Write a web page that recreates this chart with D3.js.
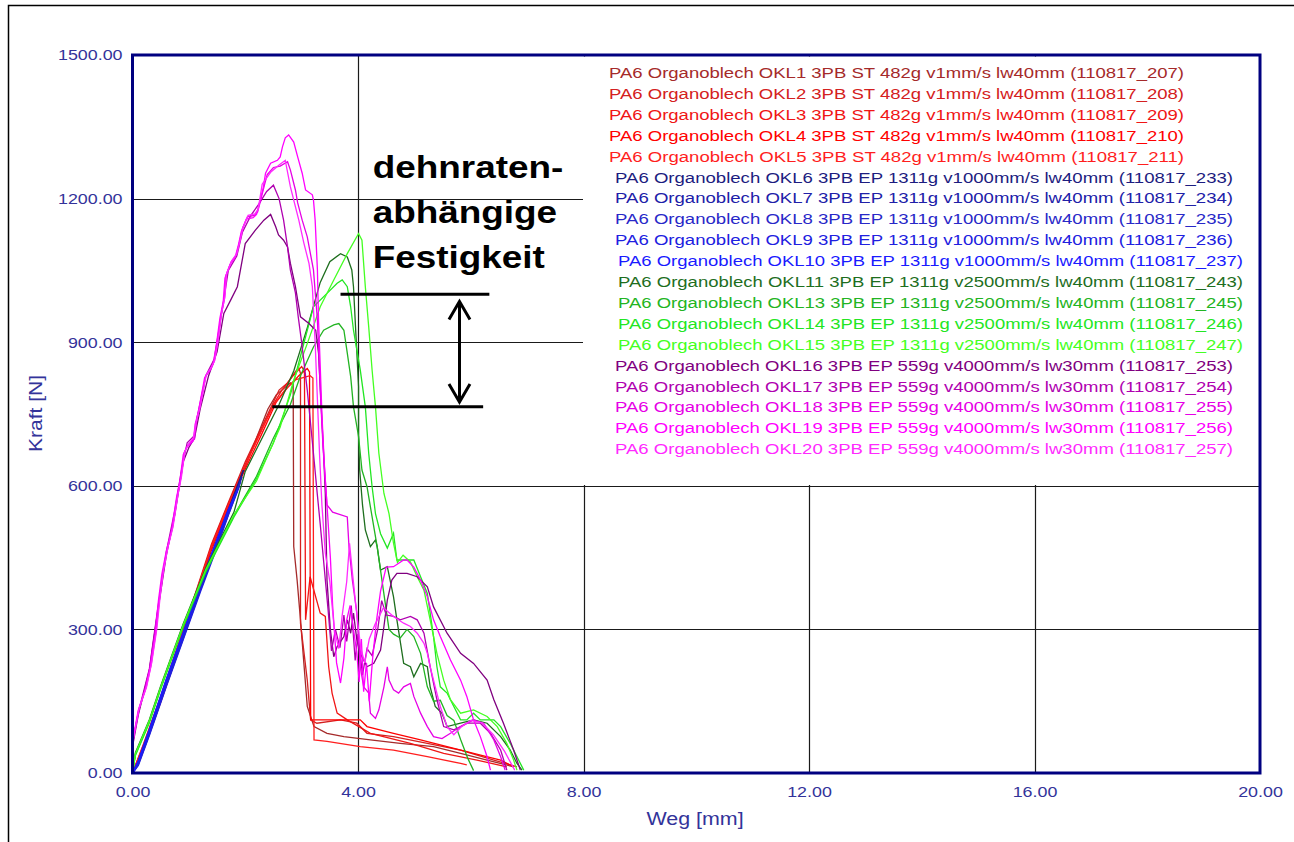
<!DOCTYPE html>
<html><head><meta charset="utf-8">
<script src="https://cdn.jsdelivr.net/npm/d3@7"></script>
<style>
body{margin:0;background:#fff;}
svg{display:block;font-family:Arial,"Liberation Sans",sans-serif;}
</style>
</head><body>
<svg id="chart" width="1294" height="842"></svg>
<script>
// ---------- data ----------
const xTicks = [0, 4, 8, 12, 16, 20];
const yTicks = [0, 300, 600, 900, 1200, 1500];
const xTitle = "Weg [mm]";
const yTitle = "Kraft [N]";
const annotationLines = ["dehnraten-", "abhängige", "Festigkeit"];

const seriesNames = [
  "PA6 Organoblech OKL1 3PB ST 482g v1mm/s lw40mm (110817_207)",
  "PA6 Organoblech OKL2 3PB ST 482g v1mm/s lw40mm (110817_208)",
  "PA6 Organoblech OKL3 3PB ST 482g v1mm/s lw40mm (110817_209)",
  "PA6 Organoblech OKL4 3PB ST 482g v1mm/s lw40mm (110817_210)",
  "PA6 Organoblech OKL5 3PB ST 482g v1mm/s lw40mm (110817_211)",
  "PA6 Organoblech OKL6 3PB EP 1311g v1000mm/s lw40mm (110817_233)",
  "PA6 Organoblech OKL7 3PB EP 1311g v1000mm/s lw40mm (110817_234)",
  "PA6 Organoblech OKL8 3PB EP 1311g v1000mm/s lw40mm (110817_235)",
  "PA6 Organoblech OKL9 3PB EP 1311g v1000mm/s lw40mm (110817_236)",
  "PA6 Organoblech OKL10 3PB EP 1311g v1000mm/s lw40mm (110817_237)",
  "PA6 Organoblech OKL11 3PB EP 1311g v2500mm/s lw40mm (110817_243)",
  "PA6 Organoblech OKL13 3PB EP 1311g v2500mm/s lw40mm (110817_245)",
  "PA6 Organoblech OKL14 3PB EP 1311g v2500mm/s lw40mm (110817_246)",
  "PA6 Organoblech OKL15 3PB EP 1311g v2500mm/s lw40mm (110817_247)",
  "PA6 Organoblech OKL16 3PB EP 559g v4000mm/s lw30mm (110817_253)",
  "PA6 Organoblech OKL17 3PB EP 559g v4000mm/s lw30mm (110817_254)",
  "PA6 Organoblech OKL18 3PB EP 559g v4000mm/s lw30mm (110817_255)",
  "PA6 Organoblech OKL19 3PB EP 559g v4000mm/s lw30mm (110817_256)",
  "PA6 Organoblech OKL20 3PB EP 559g v4000mm/s lw30mm (110817_257)"
];

// [Weg mm, Kraft N]
const okl1 = [[0,0],[0.2,55],[0.5,150],[0.8,255],[1.1,360],[1.4,470],[1.7,560],[2.0,640],[2.2,700],[2.4,760],[2.55,790],[2.7,805],[2.8,815],[2.85,812],[2.86,473],[2.92,403],[2.98,320],[3.04,229],[3.10,139],[3.22,97],[3.45,83],[3.75,76],[4.22,69],[4.75,62],[5.34,55],[5.82,41],[6.29,27],[6.76,13]];
const okl2 = [[0,0],[0.2,62],[0.5,160],[0.8,265],[1.1,370],[1.4,478],[1.7,565],[2.0,650],[2.3,725],[2.5,775],[2.6,800],[2.75,815],[2.9,840],[2.95,846],[2.98,835],[2.98,313],[3.10,194],[3.16,111],[3.27,104],[3.69,111],[3.98,104],[4.16,83],[4.63,76],[5.23,62],[5.82,48],[6.41,27],[6.82,13]];
const okl3 = [[0,0],[0.2,58],[0.5,155],[0.8,260],[1.1,365],[1.4,475],[1.7,562],[2.0,645],[2.3,720],[2.5,770],[2.65,800],[2.85,830],[3.0,849],[3.05,840],[3.07,320],[3.15,410],[3.33,334],[3.42,327],[3.48,222],[3.54,167],[3.63,125],[3.81,111],[4.22,83],[4.93,62],[5.52,41],[6.11,27],[6.64,13]];
const okl4 = [[0,0],[0.2,50],[0.5,148],[0.8,250],[1.1,355],[1.4,465],[1.7,555],[2.0,635],[2.3,710],[2.55,775],[2.75,805],[2.95,830],[3.1,845],[3.14,838],[3.16,111],[3.27,111],[4.04,111],[4.16,97],[4.63,83],[5.11,69],[5.58,55],[6.05,41],[6.53,27],[6.76,13]];
const okl5 = [[0,0],[0.2,60],[0.5,158],[0.8,262],[1.1,368],[1.4,472],[1.7,560],[2.0,642],[2.3,718],[2.5,768],[2.7,800],[2.9,822],[3.15,830],[3.2,825],[3.22,69],[3.45,66],[4.04,55],[4.63,48],[5.23,34],[5.82,20],[5.93,17]];

const okl6  = [[0,0],[0.1,22],[0.3,88],[0.6,192],[0.9,290],[1.2,390],[1.5,485],[1.8,580],[1.97,633]];
const okl7  = [[0,0],[0.1,18],[0.3,82],[0.6,185],[0.9,282],[1.2,382],[1.5,478],[1.8,572],[1.94,619]];
const okl8  = [[0,0],[0.1,20],[0.3,85],[0.6,188],[0.9,286],[1.2,386],[1.5,480],[1.75,560],[1.92,609]];
const okl9  = [[0,0],[0.1,16],[0.3,80],[0.6,182],[0.9,280],[1.2,378],[1.5,473],[1.7,540],[1.89,598]];
const okl10 = [[0,0],[0.1,24],[0.3,90],[0.6,195],[0.9,293],[1.2,393],[1.5,488],[1.7,550],[1.86,590]];

const okl11 = [[0,0],[0.05,42],[0.3,112],[0.5,182],[0.9,312],[1.3,428],[1.8,545],[2.0,630],[2.3,700],[2.6,770],[2.86,840],[3.1,930],[3.33,1025],[3.5,1068],[3.69,1085],[3.81,1078],[3.89,1051],[3.92,1016],[3.95,946],[3.98,877],[4.01,807],[4.01,703],[4.03,633],[4.08,560],[4.13,508],[4.22,473],[4.31,487],[4.34,473],[4.40,424],[4.52,431],[4.63,368],[4.69,320],[4.81,229],[4.93,222],[4.99,201],[5.11,229],[5.23,222],[5.28,180],[5.37,139],[5.49,125],[5.58,97],[5.82,104],[6.05,111],[6.29,104],[6.53,76],[6.70,48],[6.82,20],[6.91,6]];
const okl13 = [[0,0],[0.05,38],[0.3,108],[0.5,178],[0.9,308],[1.3,423],[1.8,538],[2.2,620],[2.5,700],[2.8,770],[2.98,830],[3.21,890],[3.39,925],[3.57,936],[3.66,939],[3.75,925],[3.81,877],[3.87,828],[3.92,765],[4.01,703],[4.07,633],[4.16,598],[4.22,556],[4.34,473],[4.45,382],[4.55,300],[4.63,290],[4.75,282],[4.87,300],[4.99,285],[5.11,250],[5.23,180],[5.34,150],[5.46,152],[5.58,120],[5.70,110],[5.82,70],[5.95,30],[6.05,5]];
const okl14 = [[0,0],[0.05,36],[0.3,105],[0.5,175],[0.9,305],[1.3,420],[1.8,535],[2.2,615],[2.5,690],[2.8,790],[3.0,880],[3.21,974],[3.45,1002],[3.63,1023],[3.72,1030],[3.81,1016],[3.87,974],[3.92,925],[4.04,842],[4.13,765],[4.19,668],[4.25,598],[4.31,542],[4.40,500],[4.52,470],[4.63,501],[4.69,445],[4.81,445],[4.99,445],[5.11,410],[5.23,375],[5.28,334],[5.34,285],[5.40,222],[5.46,180],[5.58,167],[5.70,139],[5.82,111],[5.93,111],[6.05,125],[6.17,111],[6.41,111],[6.53,97],[6.70,62],[6.94,6]];
const okl15 = [[0,0],[0.05,40],[0.3,110],[0.5,180],[0.9,310],[1.3,425],[1.8,540],[2.2,610],[2.62,723],[2.86,821],[3.10,897],[3.33,974],[3.57,1030],[3.81,1085],[4.01,1127],[4.07,1113],[4.13,1016],[4.19,932],[4.25,842],[4.31,765],[4.37,668],[4.46,584],[4.55,542],[4.63,480],[4.70,440],[4.80,455],[4.93,441],[5.05,410],[5.17,382],[5.28,320],[5.40,250],[5.52,194],[5.64,153],[5.82,125],[6.05,132],[6.29,118],[6.47,97],[6.64,62],[6.76,27],[6.82,6]];

const okl16 = [[0,55],[0.1,120],[0.3,215],[0.45,340],[0.6,455],[0.75,540],[0.9,650],[1.0,680],[1.1,700],[1.2,760],[1.35,830],[1.5,880],[1.62,960],[1.75,990],[1.86,1016],[2.0,1106],[2.18,1134],[2.33,1155],[2.45,1167],[2.54,1141],[2.59,1124],[2.68,1113],[2.75,1099],[2.80,1065],[2.89,1016],[2.98,953],[3.13,939],[3.25,925],[3.30,877],[3.33,807],[3.36,737],[3.39,668],[3.42,584],[3.45,403],[3.51,299],[3.57,243],[3.63,264],[3.75,285],[3.81,320],[3.87,292],[3.92,334],[3.98,278],[4.04,250],[4.16,222],[4.28,229],[4.40,257],[4.46,306],[4.52,361],[4.60,403],[4.69,417],[4.87,417],[5.05,410],[5.23,389],[5.34,347],[5.58,292],[5.82,250],[6.05,229],[6.29,194],[6.41,153],[6.58,104],[6.76,48],[6.88,6]];
const okl17 = [[0,62],[0.1,125],[0.3,218],[0.45,345],[0.6,462],[0.75,548],[0.88,640],[0.97,690],[1.1,705],[1.15,745],[1.3,830],[1.45,865],[1.58,960],[1.7,1050],[1.85,1080],[1.95,1130],[2.1,1165],[2.25,1190],[2.38,1215],[2.5,1228],[2.6,1200],[2.68,1155],[2.75,1099],[2.80,1051],[2.89,1003],[2.94,953],[3.0,900],[3.1,800],[3.2,680],[3.28,580],[3.33,520],[3.40,430],[3.47,340],[3.53,255],[3.6,300],[3.68,262],[3.75,330],[3.8,275],[3.88,350],[3.95,235],[4.0,290],[4.08,205],[4.16,260],[4.25,245],[4.35,300],[4.42,360],[4.5,330],[4.63,327],[4.75,320],[4.93,327],[5.05,320],[5.17,292],[5.28,222],[5.40,153],[5.52,97],[5.70,90],[5.82,97],[5.93,104],[6.17,104],[6.35,83],[6.53,48],[6.64,6]];
const okl18 = [[0,58],[0.03,80],[0.12,135],[0.24,178],[0.33,226],[0.42,298],[0.48,365],[0.54,420],[0.62,470],[0.71,512],[0.80,580],[0.86,618],[0.92,670],[0.98,685],[1.1,698],[1.13,733],[1.19,762],[1.3,830],[1.39,845],[1.45,860],[1.51,900],[1.57,956],[1.63,990],[1.66,1040],[1.75,1068],[1.84,1082],[1.9,1110],[1.95,1137],[2.04,1162],[2.16,1165],[2.22,1172],[2.28,1200],[2.34,1228],[2.39,1250],[2.5,1265],[2.62,1268],[2.75,1277],[2.8,1260],[2.89,1218],[2.93,1191],[3.01,1155],[3.10,1120],[3.21,1051],[3.28,946],[3.33,800],[3.38,680],[3.45,560],[3.55,545],[3.63,542],[3.81,535],[3.84,473],[3.90,403],[3.98,334],[4.04,222],[4.10,180],[4.19,167],[4.22,125],[4.31,114],[4.37,132],[4.46,180],[4.52,222],[4.55,194],[4.63,174],[4.72,167],[4.81,180],[4.93,187],[4.99,160],[5.11,125],[5.23,97],[5.34,76],[5.49,72],[5.64,83],[5.82,97],[6.05,111],[6.23,104],[6.41,69],[6.53,34],[6.61,6]];
const okl19 = [[0,65],[0.02,78],[0.1,130],[0.22,172],[0.31,220],[0.40,290],[0.46,360],[0.52,415],[0.6,464],[0.69,505],[0.78,575],[0.84,610],[0.9,665],[0.96,680],[1.08,694],[1.11,728],[1.17,756],[1.28,826],[1.37,840],[1.43,854],[1.49,896],[1.55,950],[1.61,986],[1.64,1034],[1.73,1062],[1.82,1077],[1.88,1104],[1.93,1131],[2.02,1157],[2.14,1160],[2.20,1167],[2.26,1195],[2.32,1223],[2.36,1253],[2.45,1274],[2.57,1280],[2.62,1287],[2.66,1308],[2.71,1327],[2.77,1333],[2.86,1318],[2.93,1287],[3.01,1253],[3.07,1218],[3.19,1208],[3.21,1197],[3.24,1155],[3.28,1051],[3.30,946],[3.33,850],[3.36,750],[3.40,650],[3.45,560],[3.51,450],[3.55,350],[3.62,230],[3.69,188],[3.75,240],[3.80,320],[3.86,350],[3.92,300],[3.98,250],[4.02,190],[4.06,280],[4.10,170],[4.15,230],[4.20,150],[4.26,240],[4.33,320],[4.40,380],[4.50,430],[4.63,431],[4.81,445],[4.87,445],[4.99,430],[5.11,403],[5.23,368],[5.34,320],[5.46,285],[5.64,236],[5.82,194],[5.93,160],[6.05,111],[6.17,76],[6.29,34],[6.35,6]];
const okl20 = [[0,60],[0.03,82],[0.12,137],[0.25,180],[0.34,230],[0.43,300],[0.49,368],[0.55,422],[0.63,472],[0.72,515],[0.81,583],[0.87,620],[0.93,672],[1.0,688],[1.08,700],[1.14,738],[1.2,765],[1.31,832],[1.40,848],[1.46,862],[1.52,905],[1.58,960],[1.64,995],[1.67,1043],[1.76,1070],[1.85,1085],[1.91,1112],[1.96,1140],[2.05,1165],[2.17,1168],[2.23,1178],[2.3,1230],[2.45,1255],[2.6,1270],[2.71,1280],[2.8,1225],[2.89,1183],[2.95,1155],[3.04,1107],[3.13,1065],[3.19,1016],[3.24,900],[3.28,780],[3.32,660],[3.36,560],[3.42,460],[3.50,400],[3.58,300],[3.66,260],[3.72,330],[3.80,400],[3.85,480],[3.90,420],[3.98,330],[4.05,260],[4.12,230],[4.2,280],[4.3,310],[4.45,345],[4.63,327],[4.81,313],[4.93,306],[5.05,292],[5.17,271],[5.23,250],[5.28,222],[5.37,180],[5.46,139],[5.58,97],[5.7,80],[5.82,95],[6.0,110],[6.2,105],[6.4,80],[6.6,45],[6.78,6]];

const seriesData = [okl1, okl2, okl3, okl4, okl5, okl6, okl7, okl8, okl9, okl10,
                    okl11, okl13, okl14, okl15, okl16, okl17, okl18, okl19, okl20];

// annotation (data coordinates: mm, N)
const upperMark = [[3.69, 1000], [6.33, 1000]];
const lowerMark = [[2.48, 765], [6.22, 765]];
const arrowMark = [[5.80, 985], [5.80, 775]];
const annotationPos = [[4.26, 1242], [4.26, 1148], [4.26, 1054]];

// ---------- styles ----------
const seriesColors = ["#a52a2a","#d42020","#f01515","#ff0000","#ff1e1e",
  "#1c1c80","#2020a8","#2828c8","#2020e0","#1a1aff",
  "#1e6e1e","#22b422","#22e622","#44ff22",
  "#800080","#b000b0","#e600e6","#ff00ff","#ff2aff"];
const legendX = [609,609,609,609,609,615,615,615,615,618,618,618,618,618,615,615,615,615,615];
const legendW = [575,575,575,575,575,618,618,618,618,625,625,625,625,625,618,618,618,618,618];
const navy = "#000080";
const labelColor = "#33339a";
const K = 1.19; // horizontal stretch of the original screenshot

const svg = d3.select("#chart");
const W = 1294, H = 842;
svg.append("rect").attr("width", W).attr("height", H).attr("fill", "#fff");
// outer frame
svg.append("path").attr("d", "M8.5,842V5.5H1294").attr("fill","none").attr("stroke","#000").attr("stroke-width",1.5);

const x = d3.scaleLinear().domain([0, 20]).range([132.5, 1260]);
const y = d3.scaleLinear().domain([0, 1500]).range([773, 55]);

function stretch(el, k, anchor) {
  const w = el.getComputedTextLength();
  const x0 = +el.getAttribute("x") || 0;
  el.setAttribute("textLength", w * k);
  el.setAttribute("lengthAdjust", "spacingAndGlyphs");
  el.setAttribute("text-anchor", "start");
  if (anchor === "end") el.setAttribute("x", x0 - w * k);
  else if (anchor === "middle") el.setAttribute("x", x0 - w * k / 2);
}

// grid
const grid = svg.append("g");
grid.selectAll("line.v").data(xTicks.slice(1, -1)).join("line")
  .attr("x1", d => Math.round(x(d)) + 0.5).attr("x2", d => Math.round(x(d)) + 0.5)
  .attr("y1", y(1500)).attr("y2", y(0)).attr("stroke", "#1a1a1a").attr("stroke-width", 1.2);
grid.selectAll("line.h").data(yTicks.slice(1, -1)).join("line")
  .attr("y1", d => Math.round(y(d)) + 0.5).attr("y2", d => Math.round(y(d)) + 0.5)
  .attr("x1", x(0)).attr("x2", x(20)).attr("stroke", "#1a1a1a").attr("stroke-width", 1.2);

// legend box (covers grid)
svg.append("rect").attr("x", 583).attr("y", 56.5).attr("width", 1259 - 583).attr("height", 485 - 56.5).attr("fill", "#fff");
const leg = svg.append("g");
seriesNames.forEach((n, i) => {
  const t = leg.append("text").attr("x", legendX[i]).attr("y", 78 + i * 20.9)
    .attr("font-size", 14).attr("fill", seriesColors[i]).text(n);
  t.attr("textLength", legendW[i]).attr("lengthAdjust", "spacingAndGlyphs");
});

// curves
const line = d3.line().x(d => x(d[0])).y(d => y(d[1]));
svg.append("g").selectAll("path").data(seriesData).join("path")
  .attr("d", line).attr("fill", "none")
  .attr("stroke", (d, i) => seriesColors[i])
  .attr("stroke-width", (d, i) => (i >= 5 && i <= 9) ? 1.8 : 1.3)
  .attr("stroke-linejoin", "miter");

// axes
const yAxis = svg.append("g").attr("transform", `translate(${x(0)},0)`)
  .call(d3.axisLeft(y).tickValues(yTicks).tickFormat(d3.format(".2f")).tickSize(0).tickPadding(10));
yAxis.select(".domain").remove();
yAxis.selectAll("text").attr("font-size", 15).attr("font-family", "Arial, 'Liberation Sans', sans-serif")
  .attr("fill", labelColor).each(function () { stretch(this, K, "end"); });

const xAxis = svg.append("g").attr("transform", `translate(0,${y(0)})`)
  .call(d3.axisBottom(x).tickValues(xTicks).tickFormat(d3.format(".2f")).tickSize(0).tickPadding(13));
xAxis.select(".domain").remove();
xAxis.selectAll("text").attr("font-size", 15).attr("font-family", "Arial, 'Liberation Sans', sans-serif")
  .attr("fill", labelColor).each(function () { stretch(this, K, "middle"); });

// axis titles
const xt = svg.append("text").attr("x", 695).attr("y", 825).attr("font-size", 18).attr("fill", labelColor).text(xTitle);
stretch(xt.node(), K, "middle");
svg.append("text").attr("transform", "translate(42,452) rotate(-90)")
  .attr("font-size", 19).attr("fill", labelColor)
  .attr("textLength", 77).attr("lengthAdjust", "spacingAndGlyphs").text(yTitle);

// plot frame
svg.append("rect").attr("x", x(0)).attr("y", y(1500)).attr("width", x(20) - x(0)).attr("height", y(0) - y(1500))
  .attr("fill", "none").attr("stroke", navy).attr("stroke-width", 3);

// annotation
const ann = svg.append("g");
ann.append("path").attr("d", line(upperMark)).attr("stroke", "#000").attr("stroke-width", 3);
ann.append("path").attr("d", line(lowerMark)).attr("stroke", "#000").attr("stroke-width", 3);
const ax = x(arrowMark[0][0]), ay1 = y(arrowMark[0][1]), ay2 = y(arrowMark[1][1]);
ann.append("path").attr("d", line(arrowMark)).attr("stroke", "#000").attr("stroke-width", 3);
ann.append("path").attr("d", `M${ax - 10.5},${ay1 + 18}L${ax},${ay1}L${ax + 10.5},${ay1 + 18}`)
  .attr("fill", "none").attr("stroke", "#000").attr("stroke-width", 3);
ann.append("path").attr("d", `M${ax - 10.5},${ay2 - 18}L${ax},${ay2}L${ax + 10.5},${ay2 - 18}`)
  .attr("fill", "none").attr("stroke", "#000").attr("stroke-width", 3);
annotationLines.forEach((s, i) => {
  const t = ann.append("text").attr("x", x(annotationPos[i][0])).attr("y", y(annotationPos[i][1]))
    .attr("font-size", 31).attr("font-weight", "bold").attr("fill", "#000").text(s);
  stretch(t.node(), K, "start");
});
</script>
</body></html>
